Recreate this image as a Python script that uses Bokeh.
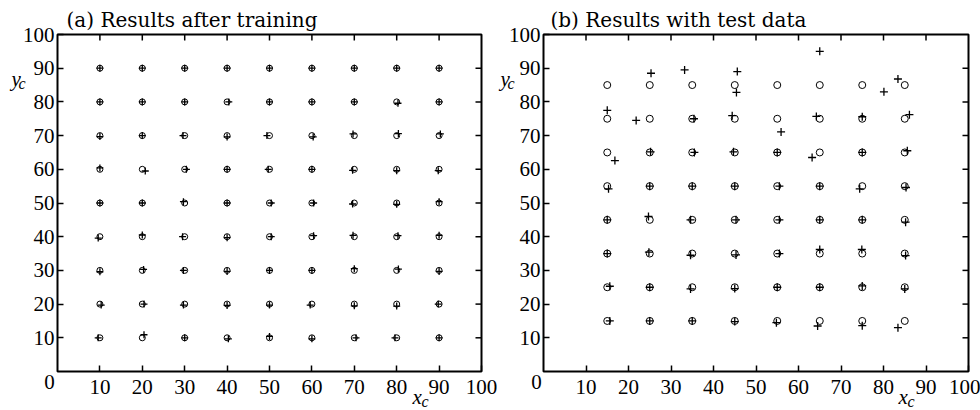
from bokeh.plotting import figure
from bokeh.models import Range1d, FixedTicker, LinearAxis, Label
from bokeh.layouts import row
from bokeh.embed import file_html
from bokeh.resources import INLINE

# ---------------- data ----------------
tick_values = [10, 20, 30, 40, 50, 60, 70, 80, 90, 100]
axis_min, axis_max = 0, 100

# (a) training grid (true positions) and network estimates
train_grid = [10, 20, 30, 40, 50, 60, 70, 80, 90]
train_est_x = [
    9.6, 20.4, 30.0, 40.3, 50.0, 60.0, 70.4, 79.6, 90.0,
    10.3, 20.4, 29.7, 40.0, 50.0, 59.6, 70.0, 80.0, 89.8,
    10.0, 20.3, 29.7, 40.0, 50.0, 60.0, 70.0, 80.4, 90.0,
    9.6, 20.0, 29.5, 40.0, 50.4, 60.4, 69.7, 80.3, 90.0,
    10.0, 20.0, 29.7, 40.0, 50.4, 60.4, 69.6, 80.0, 90.0,
    10.0, 20.7, 30.4, 40.0, 49.7, 60.0, 69.6, 80.0, 89.8,
    10.0, 20.0, 29.6, 40.0, 49.4, 60.3, 69.7, 80.4, 90.3,
    10.0, 20.0, 30.0, 40.4, 50.0, 60.0, 70.0, 80.3, 90.0,
    10.0, 20.0, 30.0, 40.0, 50.0, 60.0, 70.0, 80.0, 90.0,
]
train_est_y = [
    10.0, 10.9, 10.0, 9.7, 10.4, 9.7, 10.0, 10.0, 10.0,
    19.7, 20.0, 19.7, 19.6, 19.7, 19.7, 19.5, 19.4, 20.0,
    29.6, 30.3, 30.0, 29.7, 30.0, 30.0, 30.5, 30.4, 29.7,
    39.6, 40.5, 40.0, 39.7, 40.0, 40.3, 40.4, 40.3, 40.4,
    50.0, 50.0, 50.4, 50.0, 50.0, 50.0, 49.7, 49.6, 50.4,
    60.4, 59.5, 60.0, 60.0, 60.0, 60.0, 59.7, 59.6, 59.6,
    69.7, 70.0, 70.0, 69.6, 70.0, 69.6, 70.5, 70.6, 70.5,
    80.0, 80.0, 80.0, 80.0, 80.0, 80.0, 80.0, 79.6, 80.0,
    90.0, 90.0, 90.0, 90.0, 90.0, 90.0, 90.0, 90.0, 90.0,
]

# (b) test grid (true positions) and network estimates
test_grid = [15, 25, 35, 45, 55, 65, 75, 85]
test_est_x = [
    15.6, 25.0, 35.0, 45.0, 54.8, 64.5, 75.0, 83.4,
    15.6, 25.0, 34.6, 45.0, 55.0, 65.0, 75.0, 85.0,
    15.0, 24.8, 34.6, 45.3, 55.5, 65.0, 74.9, 85.2,
    15.0, 24.7, 34.6, 45.3, 55.5, 65.0, 75.0, 85.2,
    15.3, 25.0, 35.0, 45.0, 55.5, 65.0, 74.4, 85.3,
    16.8, 25.2, 35.5, 44.7, 55.0, 63.2, 75.0, 85.6,
    15.0, 21.8, 35.4, 44.4, 55.9, 64.2, 75.0, 86.1,
    25.3, 33.2, 45.6, 45.4, 65.0, 80.1, 83.4,
]
test_est_y = [
    15.0, 15.0, 15.0, 14.8, 14.5, 13.5, 13.6, 13.0,
    25.3, 25.0, 24.5, 24.6, 25.0, 25.0, 25.4, 24.5,
    35.0, 35.4, 34.5, 34.6, 35.0, 36.2, 36.2, 34.4,
    45.0, 46.0, 45.0, 45.0, 45.0, 45.0, 45.0, 44.3,
    54.2, 55.0, 55.0, 55.0, 55.0, 55.0, 54.2, 54.6,
    62.6, 65.2, 65.0, 65.2, 65.0, 63.5, 65.0, 65.5,
    77.5, 74.5, 75.0, 75.9, 71.1, 75.7, 75.6, 76.2,
    88.5, 89.5, 89.0, 82.8, 95.0, 83.0, 86.8,
]

titles = ["(a) Results after training", "(b) Results with test data"]

# ---------------- styling / layout (pixels) ----------------
SERIF = "Liberation Serif"
TITLE_FONT = "DejaVu Serif"
H = 410
FRAME_TOP, FRAME_BOTTOM = 34, 371      # page y of data 100 and data 0
TICK_LEN = 6
BASELINE_FIX = 6                        # compensates label baseline placement
SPLIT = 497                             # page x where the second figure starts


def panel(width, page_left, frame_left, frame_right, title, title_px, grid,
          est_x, est_y, circle_size, cross_size, ylab_px, xlab_px, zero_px):
    # pixel -> data conversion (figure covers whole canvas)
    sx = (frame_right - frame_left) / (axis_max - axis_min)
    sy = (FRAME_BOTTOM - FRAME_TOP) / (axis_max - axis_min)

    def dx(page_x):
        return axis_min + (page_x - frame_left) / sx

    def dy(page_y):
        return axis_min + (FRAME_BOTTOM - page_y) / sy

    x_range = Range1d(dx(page_left), dx(page_left + width))
    y_range = Range1d(dy(H), dy(0))
    p = figure(width=width, height=H, x_range=x_range, y_range=y_range,
               output_backend="svg", toolbar_location=None,
               x_axis_location=None, y_axis_location=None,
               min_border=0, min_border_left=0, min_border_right=0,
               min_border_top=0, min_border_bottom=0)
    p.title.visible = False
    p.grid.visible = False
    p.outline_line_color = None
    p.background_fill_color = "white"
    p.border_fill_color = "white"

    xa = LinearAxis(fixed_location=axis_min, bounds=(axis_min, axis_max))
    ya = LinearAxis(fixed_location=axis_min, bounds=(axis_min, axis_max))
    p.add_layout(xa, "below")
    p.add_layout(ya, "left")
    for ax in (xa, ya):
        ax.ticker = FixedTicker(ticks=tick_values)
        ax.major_tick_in = TICK_LEN
        ax.major_tick_out = 0
        ax.minor_tick_line_color = None
        ax.axis_line_color = None
        ax.major_tick_line_width = 1.5
        ax.major_tick_line_color = "black"
        ax.major_label_text_font = SERIF
        ax.major_label_text_font_size = "21px"
        ax.major_label_text_color = "black"
    xa.major_label_standoff = 8
    ya.major_label_standoff = 3

    # box frame and mirrored ticks on top / right
    p.quad(left=axis_min, right=axis_max, bottom=axis_min, top=axis_max,
           fill_color=None, line_color="black", line_width=2)
    inner = [t for t in tick_values if t < axis_max]
    p.segment(x0=inner, y0=[axis_max] * len(inner), x1=inner,
              y1=[axis_max - TICK_LEN / sy] * len(inner),
              line_color="black", line_width=1.5)
    p.segment(x0=[axis_max] * len(inner), y0=inner,
              x1=[axis_max - TICK_LEN / sx] * len(inner), y1=inner,
              line_color="black", line_width=1.5)

    gx = [x for y in grid for x in grid]
    gy = [y for y in grid for x in grid]
    p.scatter(gx, gy, marker="circle", size=circle_size, fill_color=None,
              line_color="black", line_width=1)
    p.scatter(est_x, est_y, marker="cross", size=cross_size,
              line_color="black", line_width=1.3)

    def lab(px, py, text, font, size, style="normal", align="left"):
        p.add_layout(Label(x=dx(px), y=dy(py - BASELINE_FIX), text=text, text_font=font,
                           text_font_size=size, text_font_style=style,
                           text_color="black", text_align=align,
                           text_baseline="alphabetic"))

    lab(title_px, 25, title, TITLE_FONT, "20px")
    lab(zero_px, 387, "0", SERIF, "21px", align="center")
    lab(ylab_px, 84, "y", SERIF, "21px", "italic")
    lab(ylab_px + 7, 89, "c", SERIF, "16px", "italic")
    lab(xlab_px, 402, "x", SERIF, "21px", "italic")
    lab(xlab_px + 9, 407, "c", SERIF, "16px", "italic")
    return p


p1 = panel(SPLIT, 0, 57, 481, titles[0], 66, train_grid, train_est_x, train_est_y,
           6, 7, 11, 412, 49)
p2 = panel(980 - SPLIT, SPLIT, 543, 968, titles[1], 550, test_grid, test_est_x, test_est_y,
           7, 8, 500, 898, 536)

layout = row(p1, p2)
open("out.html", "w").write(file_html(layout, INLINE))
